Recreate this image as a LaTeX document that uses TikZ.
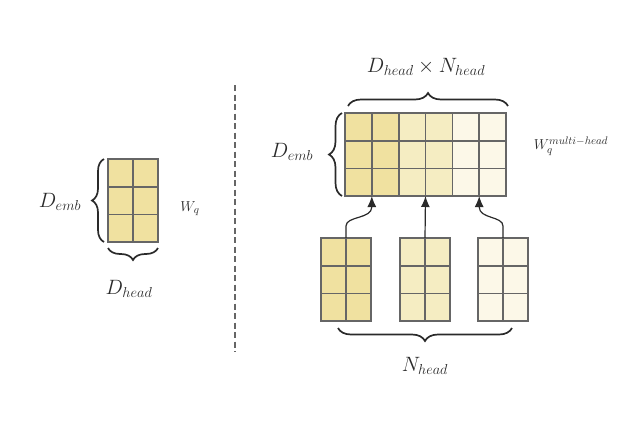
\documentclass[tikz,border=0pt]{standalone}
\usepackage{amsmath,amssymb}
\usepackage{tikz}
\usetikzlibrary{arrows.meta,decorations.pathreplacing}

\definecolor{headA}{HTML}{F0E1A0}
\definecolor{headB}{HTML}{F5EDC2}
\definecolor{headC}{HTML}{FCF8E8}
\definecolor{gridgray}{HTML}{666666}
\definecolor{inkgray}{HTML}{2A2A2A}

\tikzset{
  cellline/.style={draw=gridgray, line width=1.6pt},
  bracestyle/.style={draw=inkgray, line width=1.7pt, decorate,
    decoration={brace, amplitude=#1}},
  bracestyle/.default=13pt,
  lbl/.style={text=inkgray, font=\fontsize{19.5}{22}\selectfont},
  slbl/.style={text=inkgray, font=\fontsize{15.5}{18}\selectfont},
  feed/.style={draw=inkgray, line width=1.2pt, -{Latex[length=11pt,width=9pt]}}
}

\begin{document}
\begin{tikzpicture}[x=1pt,y=-1pt]
  \useasboundingbox (0,0) rectangle (644,429);

  % einzelner Kopf W_q
  \fill[headA] (108,159) rectangle (158,242);
  \draw[cellline] (108,159) rectangle (158,242);
  \draw[cellline] (133,159) -- (133,242);
  \foreach \y in {186.7,214.3}
    \draw[cellline] (108,\y) -- (158,\y);

  \draw[bracestyle=12pt] (104,242) -- (104,159);
  \draw[bracestyle=12pt] (158,248) -- (108,248);

  \node[lbl] (demb) at (60,202) {$D_{emb}$};
  \node[slbl] (wq) at (190,209) {$W_q$};
  \node[lbl] (dhead) at (129,289) {$D_{head}$};

  % Trennlinie
  \coordinate (sepTop) at (235,85);
  \coordinate (sepBot) at (235,352);
  \draw[gridgray, line width=1.2pt, dash pattern=on 6pt off 3.5pt] (sepTop) -- (sepBot);

  % zusammengesetzte Matrix W_q^{multi-head}
  \fill[headA] (345,113) rectangle (398.7,196);
  \fill[headB] (398.7,113) rectangle (452.3,196);
  \fill[headC] (452.3,113) rectangle (506,196);
  \draw[cellline] (345,113) rectangle (506,196);
  \foreach \x in {371.8,398.7,425.5,452.3,479.2}
    \draw[cellline] (\x,113) -- (\x,196);
  \foreach \y in {140.7,168.3}
    \draw[cellline] (345,\y) -- (506,\y);

  \draw[bracestyle] (348,106) -- (508,106);
  \draw[bracestyle] (342,196) -- (342,113);

  \node[lbl] (dxn) at (426,67) {$D_{head}\times N_{head}$};
  \node[lbl] (demb2) at (292,152) {$D_{emb}$};
  \node[slbl] (wqm) at (571,146) {$W_q^{multi-head}$};

  % die einzelnen Koepfe
  \foreach \x/\c/\n in {321/headA/1,400/headB/2,478/headC/3}{
    \fill[\c] (\x,238) rectangle ++(50,83);
    \draw[cellline] (\x,238) rectangle ++(50,83);
    \draw[cellline] (\x+25,238) -- ++(0,83);
    \draw[cellline] (\x,265.7) -- ++(50,0);
    \draw[cellline] (\x,293.3) -- ++(50,0);
    \coordinate (t\n) at (\x+25,238);
  }

  \coordinate (b1) at (371.8,196);
  \coordinate (b2) at (425.5,196);
  \coordinate (b3) at (479.2,196);

  % Pfeile nach oben
  \draw[feed] (t1) -- ++(0,-12) .. controls +(0,-10) and +(0,12) .. (371.8,207) -- (b1);
  \draw[feed] (t2) -- (b2);
  \draw[feed] (t3) -- ++(0,-12) .. controls +(0,-10) and +(0,12) .. (479.2,207) -- (b3);

  \draw[bracestyle] (512,328) -- (338,328);
  \node[lbl] (nhead) at (425,366) {$N_{head}$};
\end{tikzpicture}
\end{document}
